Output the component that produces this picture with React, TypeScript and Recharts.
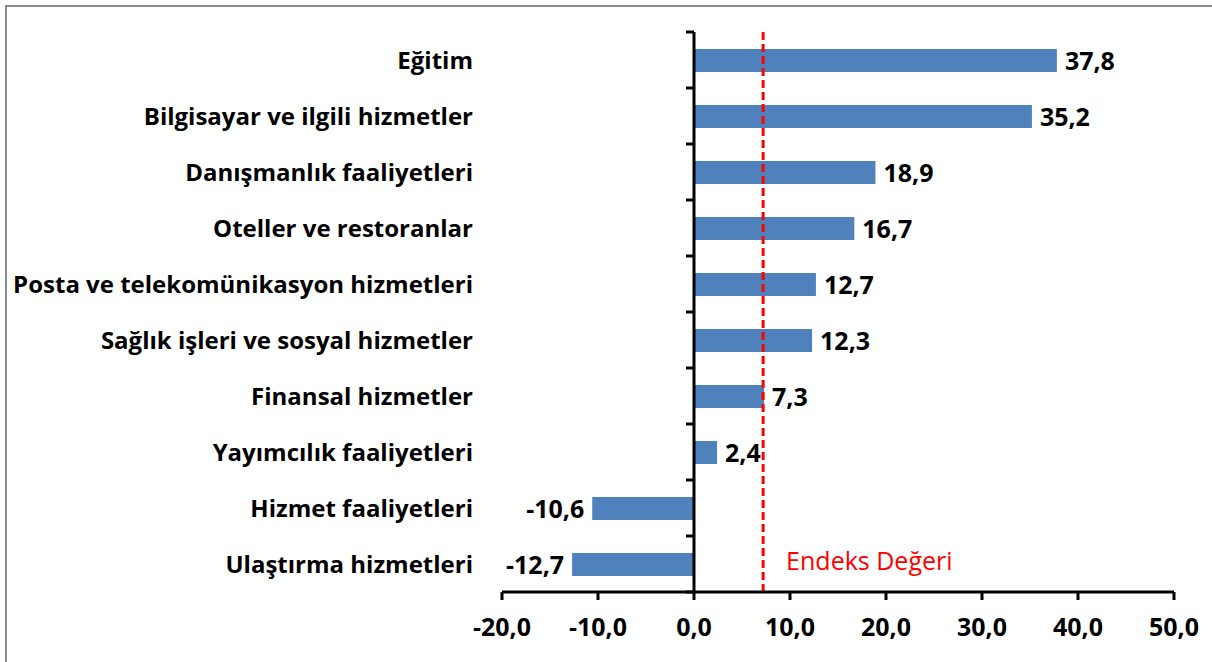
import React from "react";
import { BarChart, Bar, XAxis, YAxis, ReferenceLine, LabelList } from "recharts";

const categories = [
  "Eğitim",
  "Bilgisayar ve ilgili hizmetler",
  "Danışmanlık faaliyetleri",
  "Oteller ve restoranlar",
  "Posta ve telekomünikasyon hizmetleri",
  "Sağlık işleri ve sosyal hizmetler",
  "Finansal hizmetler",
  "Yayımcılık faaliyetleri",
  "Hizmet faaliyetleri",
  "Ulaştırma hizmetleri",
];
const values = [37.8, 35.2, 18.9, 16.7, 12.7, 12.3, 7.3, 2.4, -10.6, -12.7];
const xTicks = [-20, -10, 0, 10, 20, 30, 40, 50];
const indexValue = 7.2;
const indexLabel = "Endeks Değeri";

const data = categories.map((name, i) => ({ name, value: values[i] }));

const W = 1212;
const H = 662;
const PLOT_LEFT = 502;
const PLOT_RIGHT = 1174;
const PLOT_TOP = 32;
const PLOT_BOTTOM = 592;
const DOMAIN: [number, number] = [-20, 50];
const BAND = (PLOT_BOTTOM - PLOT_TOP) / categories.length;
const ZERO_X = PLOT_LEFT + ((0 - DOMAIN[0]) / (DOMAIN[1] - DOMAIN[0])) * (PLOT_RIGHT - PLOT_LEFT);

const FONT = "'Open Sans', 'Noto Sans', sans-serif";
const BLUE = "#4f81bd";

const fmt = (v: number) => v.toFixed(1).replace(".", ",");

function CategoryTick(props: any) {
  const { x, y, payload, index } = props;
  const last = index === categories.length - 1;
  return (
    <g>
      <text
        x={x}
        y={y}
        dy="0.36em"
        textAnchor="end"
        fontFamily={FONT}
        fontWeight={700}
        fontSize={24}
        fill="#000"
      >
        {payload.value}
      </text>
      <line x1={ZERO_X - 8} x2={ZERO_X} y1={y - BAND / 2} y2={y - BAND / 2} stroke="#000" strokeWidth={3} />
      {last && (
        <line x1={ZERO_X - 8} x2={ZERO_X} y1={y + BAND / 2} y2={y + BAND / 2} stroke="#000" strokeWidth={3} />
      )}
    </g>
  );
}

function ValueLabel(props: any) {
  const { x, y, width, height, value } = props;
  const left = Math.min(x, x + width);
  const right = Math.max(x, x + width);
  const neg = value < 0;
  return (
    <text
      x={neg ? left - 8 : right + 8}
      y={y + height / 2}
      dy="0.36em"
      textAnchor={neg ? "end" : "start"}
      fontFamily={FONT}
      fontWeight={700}
      fontSize={25}
      fill="#000"
    >
      {fmt(value)}
    </text>
  );
}

function IndexLabel(props: any) {
  const { viewBox } = props;
  return (
    <text
      x={viewBox.x + 23}
      y={viewBox.y + viewBox.height - 22}
      fontFamily={FONT}
      fontSize={25}
      fill="#ff0000"
    >
      {indexLabel}
    </text>
  );
}

export default function App() {
  return (
    <div style={{ position: "absolute", left: 0, top: 0, width: W, height: H, overflow: "hidden", background: "#fff" }}>
      <div
        style={{
          position: "absolute",
          left: 5,
          top: 5,
          width: W + 20,
          height: H + 20,
          border: "2px solid #8a8a8a",
        }}
      />
      <div style={{ position: "absolute", left: 0, top: 0 }}>
        <BarChart
          width={W}
          height={H}
          data={data}
          layout="vertical"
          barSize={23}
          margin={{ top: PLOT_TOP, right: W - PLOT_RIGHT, bottom: 0, left: 0 }}
        >
          <XAxis
            type="number"
            domain={DOMAIN}
            ticks={xTicks}
            interval={0}
            height={H - PLOT_BOTTOM}
            axisLine={{ stroke: "#000", strokeWidth: 3 }}
            tickLine={{ stroke: "#000", strokeWidth: 3 }}
            tickSize={8}
            tickMargin={18}
            tickFormatter={fmt}
            tick={{ fontFamily: FONT, fontWeight: 700, fontSize: 25, fill: "#000" }}
          />
          <YAxis
            type="category"
            dataKey="name"
            width={PLOT_LEFT}
            axisLine={false}
            tickLine={false}
            tickSize={0}
            tickMargin={29}
            interval={0}
            tick={<CategoryTick />}
          />
          <ReferenceLine x={0} stroke="#000" strokeWidth={3} />
          <Bar dataKey="value" fill={BLUE} isAnimationActive={false}>
            <LabelList dataKey="value" content={<ValueLabel />} />
          </Bar>
          <ReferenceLine
            x={indexValue}
            stroke="#ff0000"
            strokeWidth={3}
            strokeDasharray="8 4"
            label={<IndexLabel />}
          />
        </BarChart>
      </div>
    </div>
  );
}
